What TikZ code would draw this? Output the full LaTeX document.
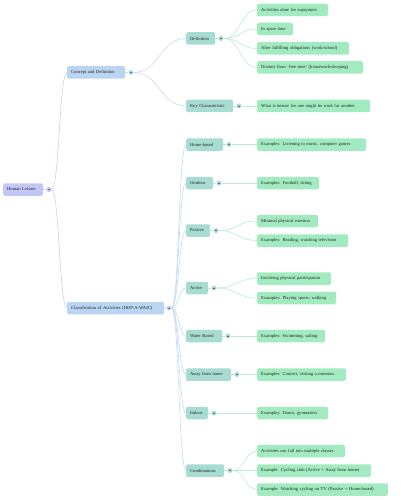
\documentclass[tikz,border=0pt]{standalone}
\usepackage{fontspec}
\setmainfont{Liberation Serif}
\usetikzlibrary{calc}
\definecolor{rootc}{HTML}{C3C7F7}
\definecolor{lonec}{HTML}{BAD5F1}
\definecolor{ltwoc}{HTML}{A7DCD2}
\definecolor{lthreec}{HTML}{A2EBC1}
\definecolor{ezero}{HTML}{CDD1F8}
\definecolor{eone}{HTML}{C4DAF3}
\definecolor{etwo}{HTML}{BEE8DD}
\definecolor{txt}{HTML}{222222}
\newcommand\link[3]{\path[draw=#3,line width=0.6pt] let \p1=(#1.east), \p2=(#2.west) in (\p1) .. controls ({(\x1+\x2)/2},\y1) and ({(\x1+\x2)/2},\y2) .. (\p2);}
\begin{document}
\begin{tikzpicture}[x=1pt,y=-1pt,
  box/.style={rounded corners=1.5pt, anchor=west, minimum height=12.5pt, inner xsep=4pt, inner ysep=0pt, align=left, font=\fontsize{4.55}{5}\selectfont, text=txt},
  rootbox/.style={box, fill=rootc},
  onebox/.style={box, fill=lonec},
  twobox/.style={box, fill=ltwoc},
  threebox/.style={box, fill=lthreec},
  tog/.style={circle, minimum size=5pt, inner sep=0pt, fill=#1,
    path picture={\draw[txt!70, line width=0.35pt] ([xshift=-1pt]path picture bounding box.center) -- ([xshift=1pt]path picture bounding box.center);}},
]
\useasboundingbox (0,0) rectangle (400,500);
% root
\node[rootbox, text width=32pt] (root) at (3,189.5) {Human Leisure};
% level 1
\node[onebox, text width=50pt] (concept) at (67,72.5) {Concept and Definition};
\node[onebox, text width=89pt] (class) at (67,308) {Classification of Activities (HOP-A-WAIC)};
% level 2
\node[twobox, text width=21pt] (def) at (186,38.5) {Definition};
\node[twobox, text width=39pt] (key) at (186,106) {Key Characteristic};
\node[twobox, text width=29pt] (home) at (186,144.5) {Home-based};
\node[twobox, text width=19pt] (outd) at (186,183) {Outdoor};
\node[twobox, text width=16pt] (pass) at (186,230.5) {Passive};
\node[twobox, text width=14pt] (act) at (186,288) {Active};
\node[twobox, text width=28pt] (water) at (186,336) {Water Based};
\node[twobox, text width=37pt] (away) at (186,374.5) {Away from home};
\node[twobox, text width=14pt] (ind) at (186,413) {Indoor};
\node[twobox, text width=30pt] (comb) at (186,470.5) {Combinations};
% level 3
\node[threebox, text width=63pt] (da) at (257,10) {Activities done for enjoyment};
\node[threebox, text width=28pt] (db) at (257,29) {In spare time};
\node[threebox, text width=84pt] (dc) at (257,48.5) {After fulfilling obligations (work/school)};
\node[threebox, text width=98pt] (dd) at (257,67.5) {Distinct from `free time' (housework/sleeping)};
\node[threebox, text width=105pt] (ka) at (257,106) {What is leisure for one might be work for another};
\node[threebox, text width=101pt] (ha) at (257,144.5) {Examples: Listening to music, computer games};
\node[threebox, text width=54pt] (oa) at (257,183) {Examples: Football, skiing};
\node[threebox, text width=53pt] (pa) at (257,221) {Minimal physical exertion};
\node[threebox, text width=83pt] (pb) at (257,240.5) {Examples: Reading, watching television};
\node[threebox, text width=66pt] (aa) at (257,278.5) {Involving physical participation};
\node[threebox, text width=71pt] (ab) at (257,298) {Examples: Playing sports, walking};
\node[threebox, text width=60pt] (wa) at (257,336) {Examples: Swimming, sailing};
\node[threebox, text width=81pt] (wh) at (257,374.5) {Examples: Concert, visiting a museum};
\node[threebox, text width=63pt] (ia) at (257,413) {Examples: Dance, gymnastics};
\node[threebox, text width=80pt] (ca) at (257,451) {Activities can fall into multiple classes};
\node[threebox, text width=106pt] (cb) at (257,470.5) {Example: Cycling club (Active + Away from home)};
\node[threebox, text width=123pt] (cc) at (257,489.5) {Example: Watching cycling on TV (Passive + Home-based)};
% toggles
\node[tog=rootc] (troot) at ([xshift=5.5pt]root.east) {};
\node[tog=lonec] (tconcept) at ([xshift=5.5pt]concept.east) {};
\node[tog=lonec] (tclass) at ([xshift=4.5pt]class.east) {};
\foreach \q in {def,key,home,outd,pass,act,water,away,ind,comb}{
  \node[tog=ltwoc] (t\q) at ([xshift=5.5pt]\q.east) {};
  \draw[etwo, line width=0.6pt] (\q.east) -- (t\q.west);
}
\draw[ezero, line width=0.6pt] (root.east) -- (troot.west);
\draw[eone, line width=0.6pt] (concept.east) -- (tconcept.west);
\draw[eone, line width=0.6pt] (class.east) -- (tclass.west);
% connectors
\link{troot}{concept}{ezero}
\link{troot}{class}{ezero}
\link{tconcept}{def}{eone}
\link{tconcept}{key}{eone}
\link{tclass}{home}{eone}
\link{tclass}{outd}{eone}
\link{tclass}{pass}{eone}
\link{tclass}{act}{eone}
\link{tclass}{water}{eone}
\link{tclass}{away}{eone}
\link{tclass}{ind}{eone}
\link{tclass}{comb}{eone}
\link{tdef}{da}{etwo}
\link{tdef}{db}{etwo}
\link{tdef}{dc}{etwo}
\link{tdef}{dd}{etwo}
\link{tkey}{ka}{etwo}
\link{thome}{ha}{etwo}
\link{toutd}{oa}{etwo}
\link{tpass}{pa}{etwo}
\link{tpass}{pb}{etwo}
\link{tact}{aa}{etwo}
\link{tact}{ab}{etwo}
\link{twater}{wa}{etwo}
\link{taway}{wh}{etwo}
\link{tind}{ia}{etwo}
\link{tcomb}{ca}{etwo}
\link{tcomb}{cb}{etwo}
\link{tcomb}{cc}{etwo}
\end{tikzpicture}
\end{document}
